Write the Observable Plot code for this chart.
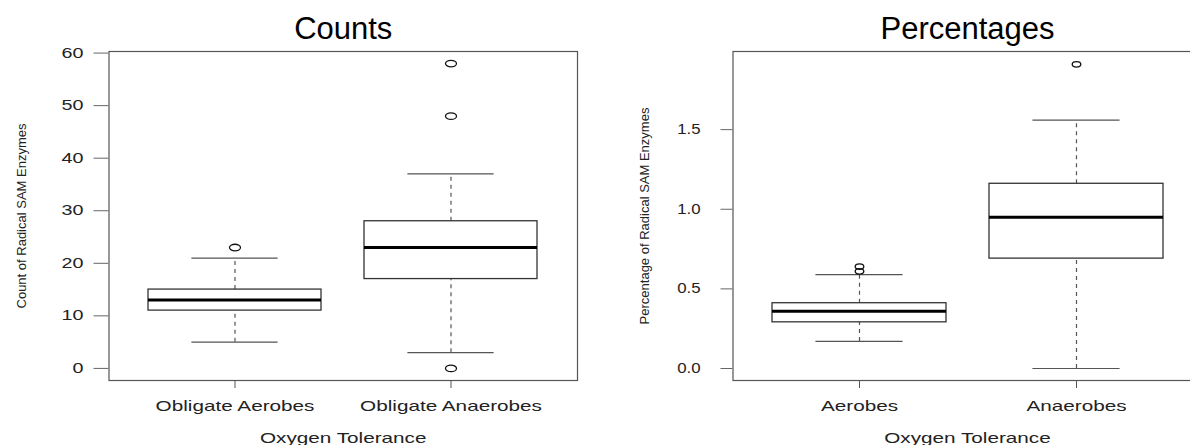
<!DOCTYPE html>
<html><head><meta charset="utf-8">
<script src="https://cdn.jsdelivr.net/npm/d3@7"></script>
<script src="https://cdn.jsdelivr.net/npm/@observablehq/plot@0.6"></script>
<style>
html,body{margin:0;padding:0;background:#fff;overflow:hidden;width:1190px;height:445px;}
#wrap{position:relative;width:1190px;height:445px;overflow:hidden;background:#fff;}
#left{position:absolute;left:0;top:0;width:595px;}
#right{position:absolute;left:595px;top:0;width:617px;}
#wrap svg{max-width:none !important;}
</style></head><body><div id="wrap"><div id="left"></div><div id="right"></div></div>
<script>
// ---- Counts panel data ----
const countGroups = ["Obligate Aerobes", "Obligate Anaerobes"];
const countLow    = [5, 3];
const countQ1     = [11, 17];
const countMedian = [13, 23];
const countQ3     = [15, 28];
const countHigh   = [21, 37];
const countOutlierGroup = ["Obligate Aerobes", "Obligate Anaerobes", "Obligate Anaerobes", "Obligate Anaerobes"];
const countOutliers     = [23, 58, 48, 0];
const countTicks = [0, 10, 20, 30, 40, 50, 60];

// ---- Percentages panel data ----
const pctGroups = ["Aerobes", "Anaerobes"];
const pctLow    = [0.17, 0.0];
const pctQ1     = [0.29, 0.69];
const pctMedian = [0.36, 0.95];
const pctQ3     = [0.41, 1.16];
const pctHigh   = [0.59, 1.56];
const pctOutlierGroup = ["Aerobes", "Aerobes", "Anaerobes"];
const pctOutliers     = [0.61, 0.64, 1.91];
const pctTicks = [0, 0.5, 1.0, 1.5];

const xTitle = "Oxygen Tolerance";

function ellipse(rx, ry) {
  const k = 0.5523;
  return {draw(ctx) {
    ctx.moveTo(rx, 0);
    ctx.bezierCurveTo(rx, ry * k, rx * k, ry, 0, ry);
    ctx.bezierCurveTo(-rx * k, ry, -rx, ry * k, -rx, 0);
    ctx.bezierCurveTo(-rx, -ry * k, -rx * k, -ry, 0, -ry);
    ctx.bezierCurveTo(rx * k, -ry, rx, -ry * k, rx, 0);
    ctx.closePath();
  }};
}

function panel(c) {
  const boxes = c.groups.map((g, i) => ({g, low: c.low[i], q1: c.q1[i], med: c.med[i], q3: c.q3[i], high: c.high[i]}));
  const outs = c.outVals.map((v, i) => ({g: c.outGroup[i], v}));
  const frameW = c.width - c.marginLeft - c.marginRight;
  const step = frameW / (2 - 0.2 + 2 * 0.18);
  const capInset = step * 0.8 / 4;
  return Plot.plot({
    width: c.width, height: 445,
    marginLeft: c.marginLeft, marginRight: c.marginRight, marginTop: 51, marginBottom: 65,
    style: {fontFamily: "'Liberation Sans', Arial, sans-serif", background: "#fff", color: "#222", overflow: "visible"},
    x: {type: "band", domain: c.groups, paddingInner: 0.2, paddingOuter: 0.18},
    y: {domain: c.domain, nice: false},
    marks: [
      Plot.ruleX(boxes, {x: "g", y1: "q3", y2: "high", stroke: "#555", strokeWidth: 1.2, strokeDasharray: "4,4"}),
      Plot.ruleX(boxes, {x: "g", y1: "low", y2: "q1", stroke: "#555", strokeWidth: 1.2, strokeDasharray: "4,4"}),
      Plot.tickY(boxes, {x: "g", y: "high", insetLeft: capInset, insetRight: capInset, stroke: "#555", strokeWidth: 1.2}),
      Plot.tickY(boxes, {x: "g", y: "low", insetLeft: capInset, insetRight: capInset, stroke: "#555", strokeWidth: 1.2}),
      Plot.barY(boxes, {x: "g", y1: "q1", y2: "q3", fill: "#fff", stroke: "#333", strokeWidth: 1.3}),
      Plot.tickY(boxes, {x: "g", y: "med", stroke: "#000", strokeWidth: 3}),
      Plot.dot(outs, {x: "g", y: "v", symbol: ellipse(c.rx, c.ry), stroke: "#111", strokeWidth: 1.3, fill: "none"}),
      Plot.frame({stroke: "#555", strokeWidth: 1.2}),
      Plot.axisY(c.ticks, {tickSize: c.ytickSize, tickPadding: c.ytickPadding, tickFormat: c.tickFmt, label: null, fontSize: 14, stroke: "#666", fill: "#222"}),
      Plot.axisX({tickSize: 8, tickPadding: 12, fontSize: 15, label: null, stroke: "#555", fill: "#222"}),
      Plot.text([c.title], {frameAnchor: "top", lineAnchor: "middle", textAnchor: "middle", dy: -22.4, fontSize: 31, fill: "#000", text: d => d}),
      Plot.text([c.ylabel], {frameAnchor: "left", lineAnchor: "middle", textAnchor: "middle", rotate: -90, dx: c.ylabelDx, fontSize: 13, fill: "#222", text: d => d}),
      Plot.text([xTitle], {frameAnchor: "bottom", lineAnchor: "middle", textAnchor: "middle", dy: 57.2, fontSize: 15, fill: "#222", text: d => d})
    ]
  });
}

function stretchNodes(nodes, factor) {
  nodes.forEach(t => {
    const n = t.getComputedTextLength();
    if (n > 0) {
      t.setAttribute("textLength", (n * factor).toFixed(2));
      t.setAttribute("lengthAdjust", "spacingAndGlyphs");
    }
  });
}

const left = panel({
  groups: countGroups, low: countLow, q1: countQ1, med: countMedian, q3: countQ3, high: countHigh,
  outGroup: countOutlierGroup, outVals: countOutliers, ticks: countTicks,
  domain: [-2.3, 60.3], tickFmt: d3.format("d"),
  title: "Counts", ylabel: "Count of Radical SAM Enzymes",
  width: 595, marginLeft: 108.5, marginRight: 18,
  ytickSize: 15, ytickPadding: 10.6, ylabelDx: -87.5, rx: 5.5, ry: 3.3
});
const right = panel({
  groups: pctGroups, low: pctLow, q1: pctQ1, med: pctMedian, q3: pctQ3, high: pctHigh,
  outGroup: pctOutlierGroup, outVals: pctOutliers, ticks: pctTicks,
  domain: [-0.0753, 1.9906], tickFmt: d3.format(".1f"),
  title: "Percentages", ylabel: "Percentage of Radical SAM Enzymes",
  width: 617, marginLeft: 137.5, marginRight: 10.5,
  ytickSize: 12, ytickPadding: 20.5, ylabelDx: -88, rx: 4.3, ry: 2.7
});
document.getElementById("left").appendChild(left);
document.getElementById("right").appendChild(right);

for (const [svg, yf] of [[left, 1.41], [right, 1.2]]) {
  const texts = Array.from(svg.querySelectorAll("text"));
  stretchNodes(Array.from(svg.querySelectorAll('[aria-label="x-axis tick label"] text')), 1.38);
  stretchNodes(texts.filter(t => t.textContent === xTitle), 1.38);
  stretchNodes(Array.from(svg.querySelectorAll('[aria-label="y-axis tick label"] text')), yf);
}
</script>
</body></html>
